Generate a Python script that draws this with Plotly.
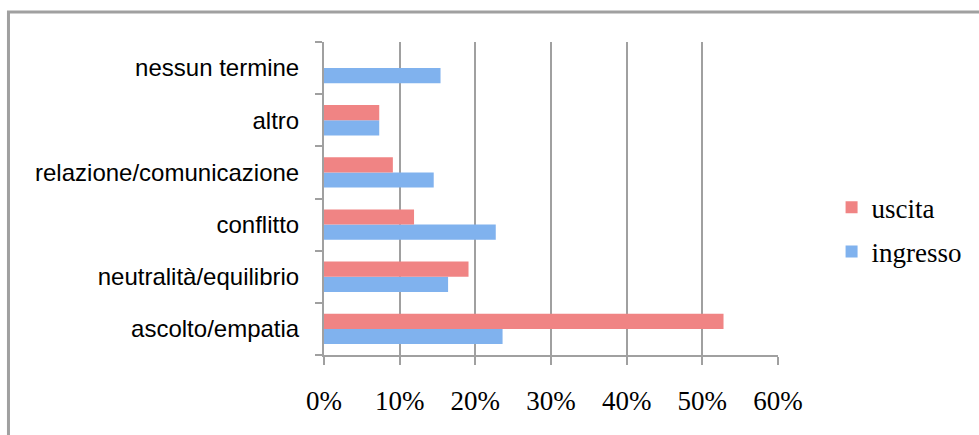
import plotly.graph_objects as go

categories = ['ascolto/empatia', 'neutralità/equilibrio', 'conflitto',
              'relazione/comunicazione', 'altro', 'nessun termine']
ingresso = [0.236, 0.164, 0.227, 0.145, 0.073, 0.154]
uscita = [0.528, 0.191, 0.119, 0.091, 0.073, 0.0]
x_ticks = [0, 0.1, 0.2, 0.3, 0.4, 0.5, 0.6]
x_tick_labels = ['0%', '10%', '20%', '30%', '40%', '50%', '60%']

fig = go.Figure()
fig.add_trace(go.Bar(y=categories, x=ingresso, name='ingresso', orientation='h',
                     legendgroup='b', legendrank=2,
                     marker=dict(color='#80b2ee', line=dict(width=0))))
fig.add_trace(go.Bar(y=categories, x=uscita, name='uscita', orientation='h',
                     legendgroup='a', legendrank=1,
                     marker=dict(color='#f08484', line=dict(width=0))))

fig.update_layout(
    width=979, height=435,
    margin=dict(l=324, r=199, t=42, b=80),
    paper_bgcolor='white', plot_bgcolor='white',
    barmode='group', bargap=0.42, bargroupgap=0,
    showlegend=True,
    legend=dict(traceorder='grouped', x=1.118, y=0.40, xanchor='left', yanchor='middle',
                font=dict(family='Liberation Serif', size=27, color='black'),
                tracegroupgap=6, itemwidth=30),
    xaxis=dict(range=[0, 0.6], tickvals=x_ticks, ticktext=x_tick_labels,
               showgrid=True, gridcolor='#a0a0a0', gridwidth=2,
               showline=True, linecolor='#a0a0a0', linewidth=2,
               ticks='outside', ticklen=8, tickwidth=2, tickcolor='#a0a0a0',
               ticklabelstandoff=13,
               tickfont=dict(family='Liberation Serif', size=27, color='black'),
               zeroline=False),
    yaxis=dict(showgrid=False, showline=True, linecolor='#a0a0a0', linewidth=2,
               ticks='outside', tickson='boundaries', ticklen=7, tickwidth=2, tickcolor='#a0a0a0',
               ticklabelstandoff=18,
               tickfont=dict(family='Liberation Sans', size=24, color='black')),
    shapes=[dict(type='rect', xref='paper', yref='paper',
                 x0=-0.695, x1=1.6, y0=-0.5, y1=1.0958,
                 line=dict(color='#a0a0a0', width=3), layer='below')],
)

fig.write_html('out.html')
